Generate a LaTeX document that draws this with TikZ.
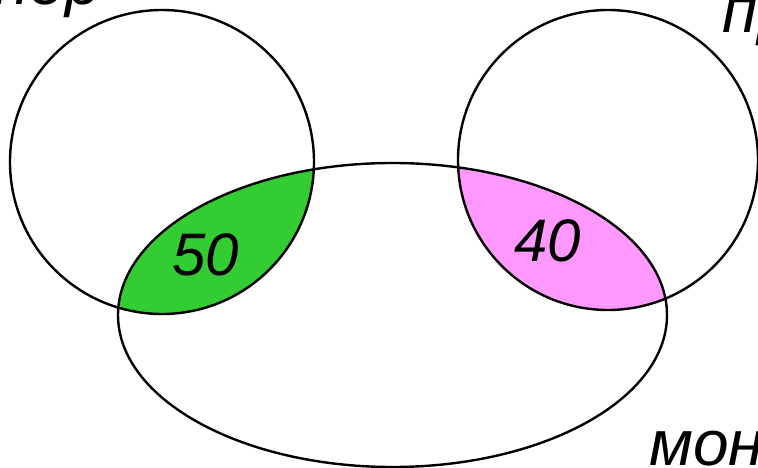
\documentclass[tikz,border=0pt]{standalone}
\usepackage{fontspec}
\setmainfont{Liberation Sans}
\definecolor{greenfill}{RGB}{51,204,51}
\definecolor{pinkfill}{RGB}{255,153,255}
\tikzset{
  setline/.style={line width=2.4pt, draw=black},
  lbl/.style={inner sep=0pt, font=\fontsize{64pt}{70pt}\selectfont\itshape},
  num/.style={inner sep=0pt, font=\fontsize{60pt}{66pt}\selectfont\itshape}
}
\begin{document}
\begin{tikzpicture}[x=1pt,y=-1pt]
\useasboundingbox (0,0) rectangle (758,468);
% fills
\begin{scope}
  \clip (392.5,315) ellipse [x radius=274.5pt, y radius=152pt];
  \fill[greenfill] (162,162) circle [radius=152pt];
  \fill[pinkfill] (608,160) circle [radius=150pt];
\end{scope}
% outlines
\draw[setline] (162,162) circle [radius=152pt];
\draw[setline] (608,160) circle [radius=150pt];
\draw[setline] (392.5,315) ellipse [x radius=274.5pt, y radius=152pt];
% labels
\node[lbl, anchor=base east] (scan) at (101,5) {сканер};
\node[lbl, anchor=base west] (print) at (722,33) {принтер};
\node[lbl, anchor=base west] (mon) at (649,465) {монитор};
\node[num] (n50) at (206,255) {50};
\node[num] (n40) at (548,241) {40};
\end{tikzpicture}
\end{document}
